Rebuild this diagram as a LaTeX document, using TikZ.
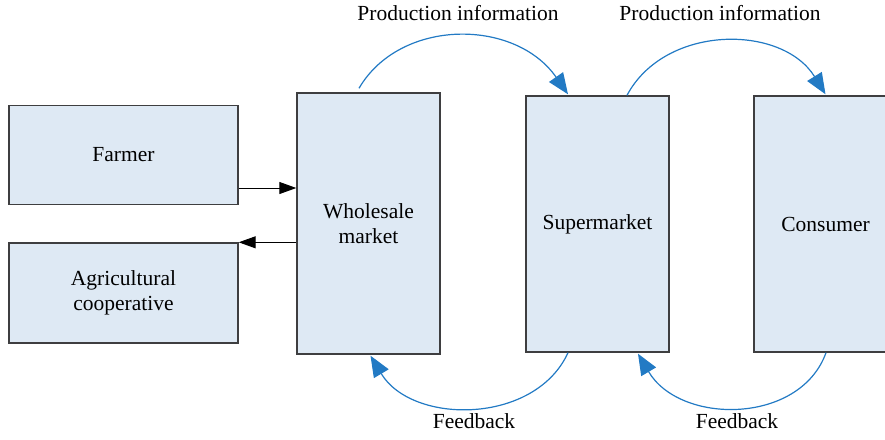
\documentclass[tikz,border=0pt]{standalone}
\usepackage{fontspec}
\setmainfont{Liberation Serif}
\usetikzlibrary{arrows.meta,calc}
\definecolor{boxfill}{RGB}{222,233,244}
\definecolor{boxline}{RGB}{62,62,64}
\definecolor{flowblue}{RGB}{34,122,196}
\begin{document}
\begin{tikzpicture}[x=1pt,y=-1pt,
  font=\fontsize{21.5}{25}\selectfont,
  block/.style={draw=boxline,fill=boxfill,line width=1.4pt,align=center,inner sep=0pt},
  wide/.style={block,minimum width=229pt,minimum height=99pt},
  tall/.style={block,minimum width=143pt,minimum height=258pt},
  plain/.style={-{Triangle[length=17pt,width=12pt]},line width=1pt,black},
  loop/.style={-{Triangle[length=21pt,width=17pt]},line width=1.2pt,draw=flowblue},
  caption/.style={anchor=base,inner sep=0pt}]
\useasboundingbox (0,0) rectangle (885,439);
\begin{scope}
\clip (0,0) rectangle (885,439);
% participants
\node[wide] (farmer) at (123.5,155) {Farmer};
\node[wide,minimum height=100pt] (coop) at (123.5,293) {Agricultural\\cooperative};
\node[tall,minimum height=261pt] (whole) at (368.5,223.5) {Wholesale\\market};
\node[tall,minimum height=256pt] (super) at (597.5,224) {Supermarket};
\node[tall,minimum height=256pt] (cons) at (825.5,224) {Consumer};
\end{scope}
% goods between farmers, cooperatives and the wholesale market
\coordinate (f1) at ([yshift=-33pt]farmer.east);
\draw[plain] (f1) -- (f1 -| whole.west);
\draw[plain] (whole.west |- coop.north east) -- (coop.north east);
% production information, upstream to downstream
\draw[loop] ($(whole.north)+(-9.5,-4)$) .. controls (400,18) and (515,18) .. ($(super.north)+(-29.5,-1)$);
\draw[loop] ($(super.north)+(29.5,0)$) .. controls (665,24) and (782,24) .. ($(cons.north)+(0,-1)$);
% feedback, downstream to upstream
\draw[loop] ($(super.south)+(-29.5,0)$) .. controls (535,425) and (412,425) .. ($(whole.south)+(2,1)$);
\draw[loop] ($(cons.south)+(0.5,0)$) .. controls (800,425) and (680,425) .. ($(super.south)+(40.5,1)$);
% labels
\node[caption] (pi1) at (458,20) {Production information};
\node[caption] (pi2) at (720,20) {Production information};
\node[caption] (fb1) at (474,428) {Feedback};
\node[caption] (fb2) at (737,428) {Feedback};
\end{tikzpicture}
\end{document}
